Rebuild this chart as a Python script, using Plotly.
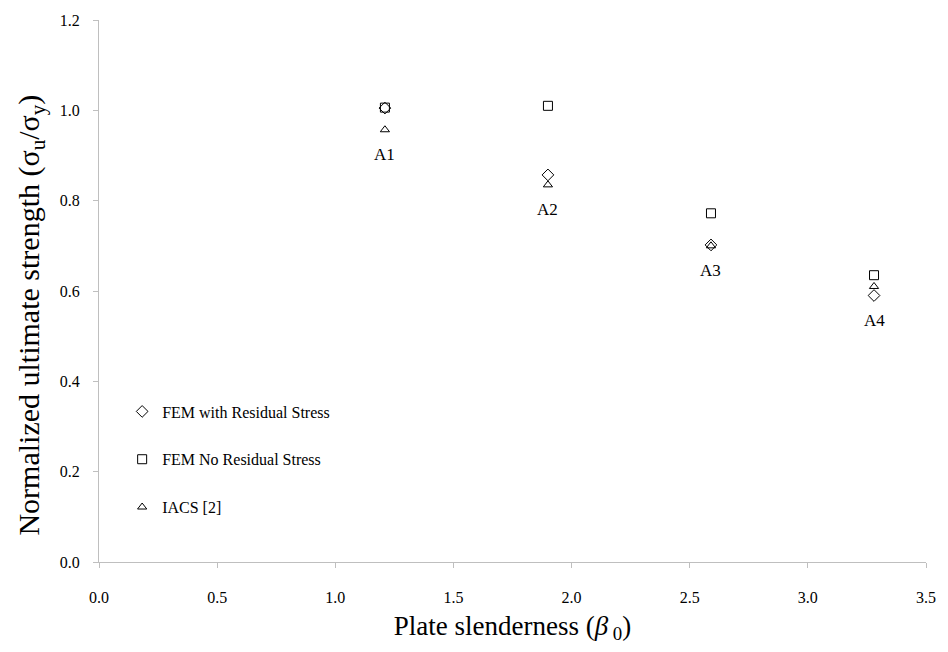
import plotly.graph_objects as go

# Plate slenderness of the four panels
beta0 = [1.21, 1.90, 2.59, 3.28]
panel_names = ["A1", "A2", "A3", "A4"]

# Normalized ultimate strength sigma_u / sigma_y
fem_residual = [1.005, 0.857, 0.702, 0.590]
fem_no_residual = [1.006, 1.010, 0.772, 0.635]
iacs = [0.957, 0.835, 0.700, 0.610]

FONT = "Liberation Serif"

fig = go.Figure()

series = [
    ("FEM with Residual Stress", fem_residual, "diamond-open", 9),
    ("FEM No Residual Stress", fem_no_residual, "square-open", 9),
    ("IACS [2]", iacs, "triangle-up-open", 8),
]
for i, (name, vals, sym, sz) in enumerate(series):
    fig.add_trace(go.Scatter(
        x=beta0, y=vals, mode="markers", name=name,
        legendgroup=f"g{i}",
        marker=dict(symbol=sym, size=sz, color="black",
                    line=dict(color="black", width=1)),
    ))

# Panel labels under each group of markers
for xb, name, a, b, c in zip(beta0, panel_names, fem_residual, fem_no_residual, iacs):
    fig.add_annotation(
        x=xb, y=min(a, b, c) - 0.055, text=name, showarrow=False,
        font=dict(family=FONT, size=17, color="black"),
    )

# Vertical axis title, placed slightly below the plot's mid-height
fig.add_annotation(
    text="Normalized ultimate strength (σ<sub>u</sub>/σ<sub>y</sub>)",
    xref="paper", yref="paper", x=-0.082, y=0.455,
    xanchor="center", yanchor="middle", textangle=-90, showarrow=False,
    font=dict(family=FONT, size=30, color="black"),
)

fig.update_layout(
    width=948, height=652,
    margin=dict(l=99, r=12, t=17, b=90),
    plot_bgcolor="white", paper_bgcolor="white",
    font=dict(family=FONT, color="black"),
    showlegend=True,
    legend=dict(
        x=0.028, y=0.309, xanchor="left", yanchor="top",
        bgcolor="rgba(0,0,0,0)",
        font=dict(family=FONT, size=16, color="black"),
        traceorder="grouped", tracegroupgap=24,
        itemwidth=30,
    ),
    xaxis=dict(
        range=[0, 3.5], dtick=0.5, tickformat=".1f",
        showgrid=False, zeroline=False,
        showline=True, linecolor="#BFBFBF", linewidth=1,
        ticks="outside", tickcolor="#BFBFBF", ticklen=5,
        ticklabelstandoff=16,
        tickfont=dict(family=FONT, size=16, color="black"),
        title=dict(text="Plate slenderness (<i>β</i><sub> 0</sub>)",
                   font=dict(family=FONT, size=27, color="black"),
                   standoff=10),
    ),
    yaxis=dict(
        range=[0, 1.2], dtick=0.2, tickformat=".1f",
        showgrid=False, zeroline=False,
        showline=True, linecolor="#BFBFBF", linewidth=1,
        ticks="outside", tickcolor="#BFBFBF", ticklen=5,
        ticklabelstandoff=10,
        tickfont=dict(family=FONT, size=16, color="black"),
    ),
)

fig.write_html("out.html")
